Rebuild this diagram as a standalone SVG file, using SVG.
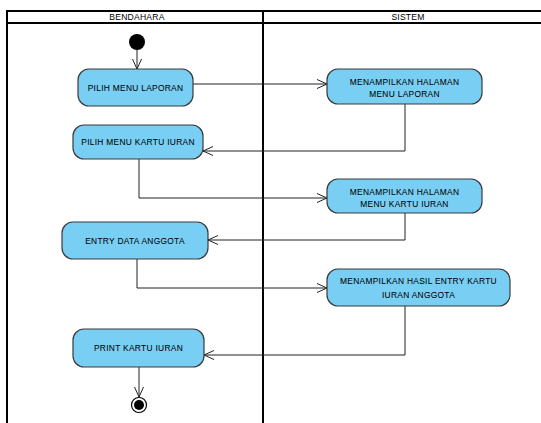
<svg xmlns="http://www.w3.org/2000/svg" width="541" height="423" viewBox="0 0 541 423">
  <style>
    .lane { fill: none; stroke: #000; stroke-width: 2; }
    .act { fill: #79cff3; stroke: #3a3a3a; stroke-width: 1.2; }
    .txt { font-family: "Liberation Sans", Arial, sans-serif; font-size: 8.4px; fill: #000; stroke: #000; stroke-width: 0.05; text-anchor: middle; letter-spacing: 0.3px; }
    .hdr { font-family: "Liberation Sans", Arial, sans-serif; font-size: 8.6px; fill: #000; text-anchor: middle; letter-spacing: 0.2px; }
    .flow { fill: none; stroke: #222; stroke-width: 1; marker-end: url(#open); }
  </style>
  <defs>
    <marker id="open" viewBox="0 0 10 10" refX="10" refY="5" markerWidth="10" markerHeight="10" markerUnits="userSpaceOnUse" orient="auto">
      <path d="M0,0.5 L10,5 L0,9.5" fill="none" stroke="#222" stroke-width="1"/>
    </marker>
  </defs>
  <rect width="541" height="423" fill="#fff"/>

  <!-- swimlanes -->
  <g id="lanes">
    <rect class="lane" x="7" y="11" width="545" height="420"/>
    <line class="lane" x1="7" y1="23" x2="541" y2="23"/>
    <line class="lane" x1="263" y1="11" x2="263" y2="423" stroke-width="2.5"/>
    <text class="hdr" x="137" y="20">BENDAHARA</text>
    <text class="hdr" x="408" y="20">SISTEM</text>
  </g>

  <!-- connectors -->
  <g id="connectors">
    <path class="flow" d="M137,50 L137,69"/>
    <path class="flow" d="M193,84 L327,84"/>
    <path class="flow" d="M405,104 L405,151 L203,151"/>
    <path class="flow" d="M139,159 L139,198 L327,198"/>
    <path class="flow" d="M405,213 L405,240 L208,240"/>
    <path class="flow" d="M137,259 L137,288 L327,288"/>
    <path class="flow" d="M405,306 L405,355 L204,355"/>
    <path class="flow" d="M139,367 L139,397"/>
  </g>

  <g id="start">
    <circle cx="137" cy="42" r="8" fill="#000"/>
  </g>

  <g id="pilih-menu-laporan">
    <rect class="act" x="78" y="69" width="115" height="37" rx="11"/>
    <text class="txt" x="135.5" y="90.5">PILIH MENU LAPORAN</text>
  </g>

  <g id="menampilkan-menu-laporan">
    <rect class="act" x="327" y="69" width="155" height="35" rx="11"/>
    <text class="txt" x="404.5" y="85">MENAMPILKAN HALAMAN</text>
    <text class="txt" x="404.5" y="96.5">MENU LAPORAN</text>
  </g>

  <g id="pilih-menu-kartu-iuran">
    <rect class="act" x="73" y="125" width="130" height="34" rx="11"/>
    <text class="txt" x="138" y="145">PILIH MENU KARTU IURAN</text>
  </g>

  <g id="menampilkan-menu-kartu-iuran">
    <rect class="act" x="327" y="179" width="155" height="34" rx="11"/>
    <text class="txt" x="404.5" y="195">MENAMPILKAN HALAMAN</text>
    <text class="txt" x="404.5" y="206.5">MENU KARTU IURAN</text>
  </g>

  <g id="entry-data-anggota">
    <rect class="act" x="62" y="222" width="146" height="37" rx="11"/>
    <text class="txt" x="135" y="243.5">ENTRY DATA ANGGOTA</text>
  </g>

  <g id="menampilkan-hasil-entry">
    <rect class="act" x="327" y="269" width="183" height="37" rx="11"/>
    <text class="txt" x="418.5" y="284">MENAMPILKAN HASIL ENTRY KARTU</text>
    <text class="txt" x="418.5" y="298">IURAN ANGGOTA</text>
  </g>

  <g id="print-kartu-iuran">
    <rect class="act" x="73" y="329" width="131" height="38" rx="11"/>
    <text class="txt" x="138.5" y="351">PRINT KARTU IURAN</text>
  </g>

  <g id="end">
    <circle cx="139" cy="405" r="7.5" fill="#fff" stroke="#000" stroke-width="1.2"/>
    <circle cx="139" cy="405" r="5" fill="#000"/>
  </g>
</svg>
